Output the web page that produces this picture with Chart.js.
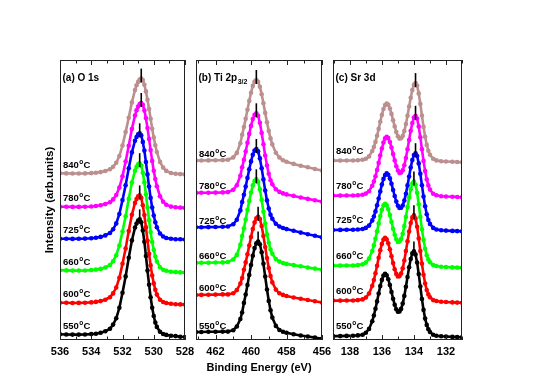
<!DOCTYPE html>
<html><head><meta charset="utf-8">
<script src="https://cdn.jsdelivr.net/npm/chart.js@4.4.0/dist/chart.umd.min.js"></script>
<style>
html,body{margin:0;padding:0;background:#fff;}
#wrap{position:relative;width:554px;height:391px;overflow:hidden;background:#fff;}
canvas{position:absolute;left:0;top:0;}
</style></head><body>
<div id="wrap">
<canvas id="ca" width="554" height="391"></canvas>
<canvas id="cb" width="554" height="391"></canvas>
<canvas id="cc" width="554" height="391"></canvas>
</div>
<script>
// ---------- data ----------
const temperatures = ['550','600','660','725','780','840'];
const colors = ['#000000','#ff0000','#00ff00','#0000ff','#ff00ff','#bc8f8f'];

// (a) O 1s
const energyA = [536.0,535.6,535.2,534.8,534.4,534.0,533.7,533.4,533.1,532.8,532.6,532.4,532.2,532.0,531.8,531.6,531.4,531.2,531.1,531.0,530.9,530.8,530.7,530.6,530.5,530.4,530.3,530.2,530.1,530.0,529.9,529.8,529.6,529.4,529.2,528.9,528.6,528.3,528.0];
const o1s550 = [5.7,5.5,5.4,5.4,5.5,5.9,6.3,7.2,8.7,11.3,15.4,21.7,32.2,47.3,63.6,82.2,99.6,112.4,116.5,119.4,120.6,117.8,109.5,98.3,84.0,69.4,55.3,42.8,32.3,24.0,17.4,13.1,8.2,6.0,5.1,4.3,3.9,3.2,3.0];
const o1s600 = [37.3,37.2,37.0,37.1,37.2,37.6,38.1,38.9,40.3,42.8,46.6,52.5,62.2,76.3,91.5,108.9,125.2,137.1,140.9,143.6,144.6,142.1,134.8,124.9,112.6,99.3,86.3,74.6,64.5,56.6,50.3,45.4,40.3,38.0,37.0,36.2,35.8,35.6,35.4];
const o1s660 = [69.7,69.6,69.4,69.4,69.5,69.9,70.4,71.1,72.5,75.0,78.8,84.8,94.5,108.5,123.7,141.1,157.4,169.3,173.1,175.7,176.8,174.4,167.2,157.7,145.5,132.5,119.7,107.9,98.0,90.0,83.5,78.5,72.8,70.3,69.2,68.2,67.9,67.6,67.4];
const o1s725 = [101.3,101.2,101.1,101.2,101.4,101.8,102.3,103.1,104.6,107.0,110.7,116.6,126.0,139.9,154.8,171.7,187.6,199.3,203.0,205.6,206.7,204.6,198.1,189.4,177.9,165.6,153.4,142.1,132.4,124.4,117.8,112.7,106.5,103.5,102.0,101.3,100.8,100.7,100.4];
const o1s780 = [133.3,133.2,133.1,133.1,133.3,133.5,134.0,134.7,135.9,137.8,140.6,145.0,152.4,163.8,178.5,194.2,210.9,224.5,229.8,233.4,236.0,237.0,235.2,229.6,222.0,211.9,200.9,189.9,179.1,169.3,160.9,153.8,143.8,138.3,135.3,133.4,132.8,132.4,132.1];
const o1s840 = [166.7,166.6,166.5,166.5,166.6,166.9,167.3,167.9,169.0,170.7,173.3,177.3,184.0,194.5,207.9,222.2,237.6,250.0,254.8,258.1,260.4,261.4,259.9,255.3,248.6,240.2,231.0,221.3,211.3,202.6,194.8,188.0,178.1,172.4,169.1,167.0,166.2,165.9,165.6];
const peaksA = [530.9,530.9,530.9,530.9,530.8,530.8];
const ticksA = [528,536];

// (b) Ti 2p3/2
const energyB = [463.1,462.8,462.4,462.0,461.6,461.3,461.0,460.8,460.6,460.5,460.4,460.3,460.2,460.1,460.0,459.9,459.8,459.7,459.6,459.5,459.4,459.3,459.2,459.1,459.0,458.9,458.8,458.6,458.4,458.2,458.0,457.6,457.2,456.8,456.4,456.0];
const ti550 = [7.9,8.0,8.2,8.3,8.4,8.4,9.8,13.5,21.0,27.5,37.1,45.5,55.0,65.1,75.0,84.2,91.9,96.7,98.5,95.7,87.7,76.2,63.4,50.5,39.1,29.7,22.4,14.1,10.0,8.2,7.2,5.8,4.5,3.5,2.4,1.3];
const ti600 = [45.0,45.1,45.3,45.4,45.6,45.6,46.7,49.9,56.4,62.0,70.2,77.6,85.7,94.5,103.0,111.0,117.6,121.7,123.3,120.9,113.9,104.0,93.0,81.9,72.0,63.9,57.6,50.4,46.7,45.1,44.0,42.5,41.2,40.0,38.8,37.5];
const ti660 = [77.1,77.2,77.3,77.5,77.6,78.0,80.5,85.1,95.2,104.0,111.8,120.5,129.9,139.0,147.5,154.6,159.0,160.7,158.1,150.7,140.1,128.3,116.4,105.8,97.2,90.5,86.2,80.9,78.4,77.0,76.1,74.9,73.7,72.5,71.4,70.3];
const ti725 = [112.7,112.8,112.9,113.0,113.2,113.5,115.8,120.2,129.6,137.9,145.2,153.4,162.1,170.7,178.6,185.3,189.4,191.0,188.6,181.6,171.7,160.6,149.5,139.6,131.5,125.2,121.2,116.2,113.5,112.0,110.9,109.2,107.4,105.8,104.2,102.6];
const ti780 = [147.1,147.2,147.3,147.4,147.6,147.9,150.3,154.7,164.3,172.7,180.1,188.5,197.3,206.1,214.1,220.9,225.1,226.7,224.2,217.2,207.1,195.8,184.5,174.5,166.2,159.8,155.7,150.7,148.1,146.6,145.6,144.1,142.5,141.1,139.7,138.3];
const ti840 = [179.4,179.5,179.6,179.7,179.9,180.2,182.6,187.1,196.8,205.3,212.9,221.3,230.3,239.1,247.3,254.1,258.4,260.0,258.2,253.2,245.7,236.7,227.1,217.7,209.1,201.6,195.6,187.3,182.5,179.8,178.2,176.1,174.3,172.7,171.0,169.4];
const peaksB = [459.6,459.6,459.7,459.7,459.7,459.7];
const ticksB = [456,463.1];

// (c) Sr 3d
const energyC = [139.05,138.6,138.2,137.8,137.5,137.2,137.0,136.8,136.6,136.5,136.4,136.3,136.2,136.1,136.0,135.9,135.8,135.7,135.6,135.5,135.4,135.3,135.2,135.1,135.0,134.9,134.8,134.7,134.6,134.5,134.4,134.3,134.2,134.1,134.0,133.9,133.8,133.7,133.6,133.5,133.4,133.3,133.2,133.1,133.0,132.8,132.6,132.3,132.0,131.6,131.3,131.0];
const sr550 = [3.9,3.9,4.1,4.2,4.6,5.3,7.2,11.1,18.8,24.5,31.2,38.6,46.5,53.9,60.1,64.5,66.2,64.8,60.8,55.0,48.0,41.3,35.2,30.7,28.2,28.6,31.1,36.4,44.1,53.2,63.0,72.7,81.0,86.7,88.6,85.6,77.4,65.9,53.4,40.9,30.1,21.4,15.1,10.8,8.0,5.3,4.3,3.7,3.5,3.1,2.9,2.8];
const sr600 = [39.4,39.4,39.5,39.5,39.9,40.6,42.5,46.5,54.2,59.9,66.7,74.2,82.3,89.8,96.1,100.5,102.2,100.7,96.7,90.8,83.8,76.9,70.7,66.1,63.5,63.9,66.4,71.8,79.5,88.9,98.8,108.5,117.0,122.8,124.8,121.6,113.3,101.6,88.9,76.3,65.3,56.5,50.0,45.6,42.8,39.9,39.0,38.3,38.0,37.6,37.4,37.2];
const sr660 = [74.4,74.4,74.5,74.5,74.9,75.6,77.4,81.4,89.0,94.6,101.3,108.7,116.6,124.0,130.2,134.6,136.3,134.8,130.8,125.0,118.1,111.3,105.2,100.7,98.1,98.5,101.0,106.3,113.9,123.1,132.9,142.5,150.8,156.5,158.5,155.4,147.2,135.7,123.1,110.7,99.9,91.2,84.8,80.5,77.7,74.9,74.0,73.3,73.0,72.6,72.4,72.2];
const sr725 = [110.0,110.1,110.2,110.3,110.5,111.0,112.1,114.4,119.6,123.5,128.6,134.8,141.5,148.6,155.4,161.1,165.0,166.6,165.3,161.6,156.3,150.0,144.0,138.4,134.2,132.0,132.3,134.5,139.4,146.3,154.6,163.5,172.4,179.9,185.0,186.8,184.0,176.6,166.2,154.7,143.5,133.7,125.8,120.0,116.1,112.1,110.5,109.7,109.4,109.1,108.9,108.8];
const sr780 = [144.4,144.4,144.5,144.5,144.8,145.3,146.4,148.8,154.3,158.4,163.7,170.0,177.1,184.5,191.5,197.5,201.6,203.2,201.9,198.0,192.5,185.9,179.6,173.8,169.5,167.1,167.5,169.8,174.8,182.0,190.7,200.0,209.2,217.0,222.4,224.2,221.4,213.6,202.8,190.8,179.1,168.9,160.6,154.6,150.4,146.3,144.7,143.8,143.5,143.2,143.0,142.8];
const sr840 = [179.4,179.4,179.5,179.5,179.8,180.3,181.3,183.6,189.0,193.0,198.1,204.2,211.1,218.3,225.1,231.0,234.9,236.5,235.2,231.4,226.1,219.7,213.6,207.9,203.7,201.4,201.8,204.0,208.9,215.9,224.3,233.4,242.3,249.9,255.1,256.9,254.2,246.6,236.1,224.4,213.1,203.2,195.1,189.3,185.2,181.2,179.6,178.8,178.5,178.2,178.0,177.8];
const peaksC = [134.0,134.0,134.0,133.9,133.9,133.9];
const ticksC = [131,139.05];

// ---------- drawing ----------
const FONT = "'Liberation Sans', Arial, Helvetica, sans-serif";
Chart.defaults.font.family = FONT;

const panels = [
  {id:'ca', energies:energyA, series:[o1s550,o1s600,o1s660,o1s725,o1s780,o1s840], peaks:peaksA, range:ticksA,
   padL:40, padR:369, title:'(a) O 1s', sub:'', labelOffset:9, yTitle:'Intensity (arb.units)', xTitle:''},
  {id:'cb', energies:energyB, series:[ti550,ti600,ti660,ti725,ti780,ti840], peaks:peaksB, range:ticksB,
   padL:196, padR:232, title:'(b) Ti 2p', sub:'3/2', labelOffset:7, yTitle:'', xTitle:'Binding Energy (eV)'},
  {id:'cc', energies:energyC, series:[sr550,sr600,sr660,sr725,sr780,sr840], peaks:peaksC, range:ticksC,
   padL:333, padR:92, title:'(c) Sr 3d', sub:'', labelOffset:10.5, yTitle:'', xTitle:''}
];

function decorPlugin(p) {
  return {
    id: 'decor_' + p.id,
    afterDatasetsDraw(chart) {
      const {ctx, chartArea: a, scales: {x, y}} = chart;
      ctx.save();
      ctx.strokeStyle = '#222';
      ctx.lineWidth = 1;
      const L = Math.round(a.left), T = Math.round(a.top), R = Math.round(a.right), B = Math.round(a.bottom);
      ctx.strokeRect(L + 0.5, T + 0.5, R - L - 1, B - T - 1);
      ctx.beginPath();
      for (let v = Math.ceil(x.min); v <= Math.floor(x.max); v++) {
        const px = Math.round(x.getPixelForValue(v)) + 0.5;
        const len = (v % 2 === 0) ? 5 : 3.5;
        ctx.moveTo(px, B); ctx.lineTo(px, B - len);
        ctx.moveTo(px, T); ctx.lineTo(px, T + len);
      }
      ctx.stroke();
      // panel title
      ctx.fillStyle = '#000';
      ctx.textBaseline = 'alphabetic';
      ctx.textAlign = 'left';
      ctx.font = 'bold 10px ' + FONT;
      const tx = a.left + 2.5, ty = a.top + 20.5;
      ctx.fillText(p.title, tx, ty);
      if (p.sub) {
        const w = ctx.measureText(p.title).width;
        ctx.font = 'bold 7px ' + FONT;
        ctx.fillText(p.sub, tx + w + 0.5, ty + 3);
      }
      // temperature labels
      p.series.forEach((s, i) => {
        const lx = a.left + 3;
        const ly = y.getPixelForValue(s[0]) - p.labelOffset + 3.4;
        ctx.font = 'bold 9.5px ' + FONT;
        ctx.fillText(temperatures[i], lx, ly);
        const w1 = ctx.measureText(temperatures[i]).width;
        ctx.font = 'bold 6.5px ' + FONT;
        ctx.fillText('o', lx + w1 + 0.4, ly - 3.8);
        const w2 = ctx.measureText('o').width;
        ctx.font = 'bold 9.5px ' + FONT;
        ctx.fillText('C', lx + w1 + w2 + 0.8, ly);
      });
      ctx.restore();
    }
  };
}

panels.forEach(p => {
  const datasets = [];
  // peak markers (drawn on top)
  p.series.forEach((s, i) => {
    const top = Math.max(...s);
    datasets.push({
      data: [{x: p.peaks[i], y: top - 4}, {x: p.peaks[i], y: top + 10}],
      showLine: true, borderColor: '#000', borderWidth: 1.6,
      pointRadius: 0, pointHoverRadius: 0
    });
  });
  for (let i = p.series.length - 1; i >= 0; i--) {
    datasets.push({
      data: p.energies.map((e, k) => ({x: e, y: p.series[i][k]})),
      showLine: true,
      borderColor: colors[i], backgroundColor: colors[i],
      borderWidth: 2.6,
      pointRadius: 2.3, pointBorderWidth: 0, pointHoverRadius: 0,
      pointBackgroundColor: colors[i]
    });
  }
  const yOpts = {
    min: 0, max: 280, display: !!p.yTitle,
    grid: { display: false, drawTicks: false },
    border: { display: false },
    ticks: { display: false },
    title: { display: !!p.yTitle, text: p.yTitle, color: '#000',
             font: { size: 11.5, weight: 'bold' }, padding: { top: 3, bottom: 3 } }
  };
  if (p.yTitle) yOpts.afterFit = s => { s.width = 20; };
  new Chart(document.getElementById(p.id), {
    type: 'scatter',
    data: { datasets },
    options: {
      responsive: false, animation: false, devicePixelRatio: 1, events: [],
      layout: { padding: { left: p.padL, right: p.padR, top: 60, bottom: 11 } },
      plugins: { legend: {display: false}, tooltip: {enabled: false} },
      scales: {
        x: {
          type: 'linear', reverse: true, min: p.range[0], max: p.range[1],
          afterFit: s => { s.height = 40; },
          grid: { display: false, drawTicks: false },
          border: { display: false },
          ticks: {
            stepSize: 1, autoSkip: false, maxRotation: 0, minRotation: 0, padding: 5,
            color: '#000', font: { size: 11, weight: 'bold' },
            callback: v => (Number.isInteger(v) && v % 2 === 0) ? String(v) : ''
          },
          title: { display: !!p.xTitle, text: p.xTitle, color: '#000',
                   font: { size: 11, weight: 'bold' }, padding: { top: 0, bottom: 5 } }
        },
        y: yOpts
      }
    },
    plugins: [decorPlugin(p)]
  });
});
</script>
</body></html>
